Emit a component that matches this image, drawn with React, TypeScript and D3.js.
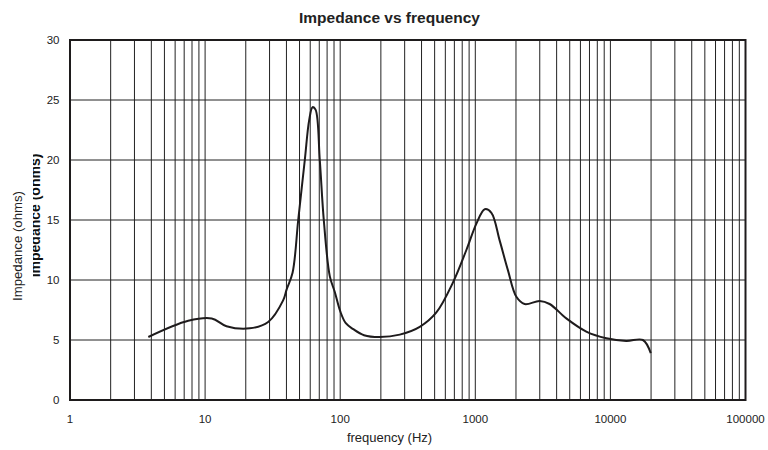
import React from 'react';
import * as d3 from 'd3';

// Impedance curve (frequency in Hz, impedance in ohms)
const freqs = [3.8, 7.5, 11.2, 14.4, 21.4, 29.3, 37.8, 40.1, 44.4, 48.9, 54.7, 58.9, 62.4, 65.7, 70.6, 75.6, 83.8, 91.2, 100, 110, 125, 150, 196, 276, 388, 515, 684, 859, 1019, 1175, 1316, 1514, 1745, 2014, 2318, 2993, 3548, 4716, 6631, 9333, 13100, 17400, 19900];
const ohms = [5.25, 6.6, 6.8, 6.15, 5.97, 6.5, 8.3, 9.2, 10.6, 15, 20, 23.3, 24.4, 24.2, 20, 15, 10.3, 9.0, 7.4, 6.4, 5.9, 5.4, 5.25, 5.45, 6.1, 7.3, 9.8, 12.5, 14.7, 15.9, 15.6, 13.3, 10.8, 8.6, 8.0, 8.25, 8.0, 6.8, 5.7, 5.14, 4.92, 5.0, 3.9];

const xTicks = [1, 10, 100, 1000, 10000, 100000];
const yTicks = [0, 5, 10, 15, 20, 25, 30];

const App = () => {
  const width = 768;
  const height = 450;
  const left = 70;
  const right = 745.5;
  const top = 40;
  const bottom = 400;

  const x = d3.scaleLog().domain([1, 100000]).range([left, right]);
  const y = d3.scaleLinear().domain([0, 30]).range([bottom, top]);

  // minor + major vertical lines
  const vLines: number[] = [];
  for (let dec = 1; dec < 100000; dec *= 10) {
    for (let k = 1; k <= 9; k++) vLines.push(dec * k);
  }
  vLines.push(100000);

  const data = freqs.map((f, i) => [f, ohms[i]] as [number, number]);
  const line = d3
    .line<[number, number]>()
    .x((d) => x(d[0]))
    .y((d) => y(d[1]))
    .curve(d3.curveCatmullRom.alpha(0.5));

  const font = '"Liberation Sans", Arial, Helvetica, sans-serif';

  return (
    <svg
      width={width}
      height={height}
      style={{ position: 'absolute', left: 0, top: 0, background: '#fff' }}
      fontFamily={font}
    >
      <defs>
        {/* the bold duplicate label has its tops cut off */}
        <clipPath id="boldClip">
          <rect x={33} y={0} width={40} height={450} />
        </clipPath>
      </defs>

      {/* grid */}
      {vLines.map((f) => (
        <line key={'v' + f} x1={x(f)} x2={x(f)} y1={top} y2={bottom} stroke="#222" strokeWidth={1} />
      ))}
      {yTicks.map((t) => (
        <line key={'h' + t} x1={left} x2={right} y1={Math.round(y(t))} y2={Math.round(y(t))} stroke="#222" strokeWidth={1} />
      ))}

      {/* curve */}
      <path d={line(data) || ''} fill="none" stroke="#1e1b1c" strokeWidth={2} strokeLinejoin="round" />

      {/* frame */}
      <rect x={left} y={top} width={right - left} height={bottom - top} fill="none" stroke="#1e1b1c" strokeWidth={2} />

      {/* tick labels */}
      {xTicks.map((t) => (
        <text key={'xt' + t} x={x(t)} y={423} textAnchor="middle" fontSize={11.5} fill="#222">
          {t}
        </text>
      ))}
      {yTicks.map((t) => (
        <text key={'yt' + t} x={59.5} y={y(t) + 4} textAnchor="end" fontSize={11.5} fill="#222">
          {t}
        </text>
      ))}

      {/* title and axis labels */}
      <text x={389.5} y={23} textAnchor="middle" fontSize={15.5} fontWeight="bold" fill="#222">
        Impedance vs frequency
      </text>
      <text x={389.5} y={442} textAnchor="middle" fontSize={13} fill="#222">
        frequency (Hz)
      </text>
      <text transform="translate(21.5,246) rotate(-90)" textAnchor="middle" fontSize={13.2} fill="#222">
        Impedance (ohms)
      </text>
      <g clipPath="url(#boldClip)">
        <text transform="translate(40,215.5) rotate(-90)" textAnchor="middle" fontSize={14} fontWeight="bold" fill="#111">
          Impedance (ohms)
        </text>
      </g>
    </svg>
  );
};

export default App;
